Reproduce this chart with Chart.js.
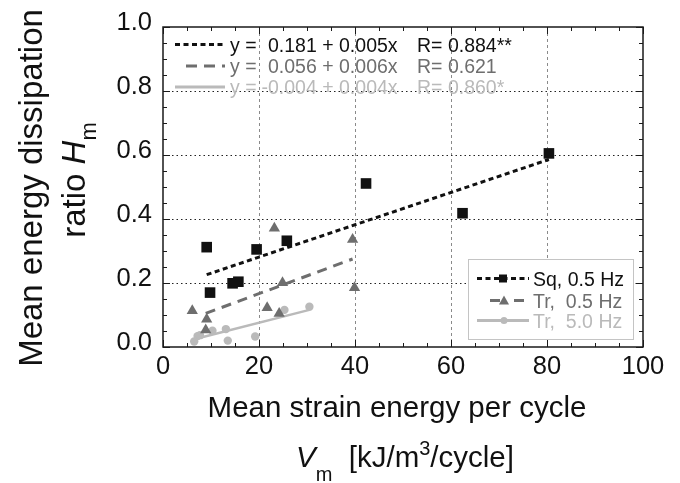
<!DOCTYPE html>
<html>
<head>
<meta charset="utf-8">
<script src="https://cdn.jsdelivr.net/npm/chart.js@4"></script>
<style>
  html, body { margin: 0; padding: 0; background: #fff; }
  #wrap { width: 680px; height: 483px; }
</style>
</head>
<body>
<div id="wrap"><canvas id="chart" width="680" height="483"></canvas></div>
<script>
// Data
const sqX = [9.1, 9.8, 14.5, 15.7, 19.5, 25.8, 42.3, 62.4, 80.4];
const sqY = [0.312, 0.170, 0.199, 0.204, 0.305, 0.332, 0.511, 0.418, 0.605];
const trX = [6.1, 8.9, 9.1, 21.7, 23.2, 24.2, 24.9, 39.5, 39.9];
const trY = [0.113, 0.053, 0.087, 0.123, 0.371, 0.105, 0.201, 0.336, 0.185];
const tr5X = [6.5, 7.2, 7.7, 10.3, 13.1, 13.5, 19.2, 25.3, 30.5];
const tr5Y = [0.017, 0.034, 0.037, 0.051, 0.056, 0.020, 0.033, 0.116, 0.126];

// fitted line end points
const sqFitX = [9.1, 80.4];
const sqFitY = [0.226, 0.586];
const trFitX = [8.9, 39.5];
const trFitY = [0.105, 0.275];
const tr5FitX = [6.5, 30.5];
const tr5FitY = [0.024, 0.116];

const xTicks = [0, 20, 40, 60, 80, 100];
const yTicks = [0.0, 0.2, 0.4, 0.6, 0.8, 1.0];

const equations = [
    { y: 'y =', fit: '0.181 + 0.005x', r: 'R= 0.884**' },
    { y: 'y =', fit: '0.056 + 0.006x', r: 'R= 0.621' },
    { y: 'y =', fit: '-0.004 + 0.004x', r: 'R= 0.860*' }
];
const seriesNames = ['Sq, 0.5 Hz', 'Tr,  0.5 Hz', 'Tr,  5.0 Hz'];

const BLACK = '#111111';
const GRAY = '#6e6e6e';
const LIGHT = '#bababa';
const FONT = "'Liberation Sans', Arial, sans-serif";

function pts(xs, ys) {
    return xs.map((x, i) => ({ x: x, y: ys[i] }));
}

// Grid, frame, ticks, titles and the two legends
const decor = {
    id: 'decor',
    beforeDatasetsDraw(chart) {
        const ctx = chart.ctx;
        const xs = chart.scales.x, ys = chart.scales.y;
        const a = chart.chartArea;
        ctx.save();
        // vertical grid
        ctx.strokeStyle = '#8a8a8a';
        ctx.lineWidth = 1;
        ctx.setLineDash([3, 3]);
        xTicks.slice(1, -1).forEach(v => {
            const px = Math.round(xs.getPixelForValue(v)) + 0.5;
            ctx.beginPath();
            ctx.moveTo(px, a.top);
            ctx.lineTo(px, a.bottom);
            ctx.stroke();
        });
        // horizontal grid
        ctx.strokeStyle = '#222';
        ctx.setLineDash([1.5, 3]);
        yTicks.slice(1, -1).forEach(v => {
            const py = Math.round(ys.getPixelForValue(v)) + 0.5;
            ctx.beginPath();
            ctx.moveTo(a.left, py);
            ctx.lineTo(a.right, py);
            ctx.stroke();
        });
        ctx.restore();
    },
    afterDatasetsDraw(chart) {
        const ctx = chart.ctx;
        const xs = chart.scales.x, ys = chart.scales.y;
        const a = chart.chartArea;
        ctx.save();
        ctx.strokeStyle = '#1a1a1a';
        ctx.lineWidth = 1.5;
        ctx.strokeRect(a.left, a.top, a.right - a.left, a.bottom - a.top);
        ctx.lineWidth = 1;
        // x ticks, every 5
        for (let v = 0; v <= 100; v += 5) {
            const px = Math.round(xs.getPixelForValue(v)) + 0.5;
            const len = v % 20 === 0 ? 7 : 4;
            ctx.beginPath();
            ctx.moveTo(px, a.bottom); ctx.lineTo(px, a.bottom - len);
            ctx.moveTo(px, a.top); ctx.lineTo(px, a.top + len);
            ctx.stroke();
        }
        // y ticks, every 0.05
        for (let k = 0; k <= 20; k++) {
            const py = Math.round(ys.getPixelForValue(k * 0.05)) + 0.5;
            const len = k % 4 === 0 ? 7 : 4;
            ctx.beginPath();
            ctx.moveTo(a.left, py); ctx.lineTo(a.left + len, py);
            ctx.moveTo(a.right, py); ctx.lineTo(a.right - len, py);
            ctx.stroke();
        }
        ctx.restore();
    },
    afterDraw(chart) {
        const ctx = chart.ctx;
        ctx.save();
        ctx.textBaseline = 'alphabetic';

        // equations, top left
        const eqColors = [BLACK, GRAY, LIGHT];
        const eqBase = [51.5, 73, 94];
        const eqDash = [[5, 3.5], [11, 7], []];
        const eqX0 = [175, 186, 175];
        ctx.font = '19.5px ' + FONT;
        equations.forEach((e, i) => {
            const by = eqBase[i];
            ctx.strokeStyle = eqColors[i];
            ctx.lineWidth = 3;
            ctx.setLineDash(eqDash[i]);
            ctx.beginPath();
            ctx.moveTo(eqX0[i], by - 7);
            ctx.lineTo(225, by - 7);
            ctx.stroke();
            ctx.setLineDash([]);
            ctx.fillStyle = eqColors[i];
            ctx.textAlign = 'left';
            ctx.fillText(e.y, 230, by);
            if (e.fit.charAt(0) === '-') {
                ctx.textAlign = 'right';
                ctx.fillText('-', 268, by);
                ctx.textAlign = 'left';
                ctx.fillText(e.fit.slice(1), 268, by);
            } else {
                ctx.fillText(e.fit, 268, by);
            }
            ctx.fillText(e.r, 417, by);
        });

        // series legend box, bottom right
        ctx.fillStyle = '#fff';
        ctx.fillRect(468.5, 259.5, 165, 80);
        ctx.strokeStyle = '#c4c4c4';
        ctx.lineWidth = 1;
        ctx.strokeRect(468.5, 259.5, 165, 80);
        const rowY = [278.5, 300.5, 320.5];
        const rowColors = [BLACK, GRAY, LIGHT];
        const rowDash = [[5, 3.5], [10, 14], []];
        const rowX0 = [477, 490, 477];
        rowY.forEach((y, i) => {
            ctx.strokeStyle = rowColors[i];
            ctx.lineWidth = 3;
            ctx.setLineDash(rowDash[i]);
            ctx.beginPath();
            ctx.moveTo(rowX0[i], y);
            ctx.lineTo(529, y);
            ctx.stroke();
            ctx.setLineDash([]);
            ctx.fillStyle = rowColors[i];
            ctx.beginPath();
            if (i === 0) {
                ctx.rect(499, y - 4, 8, 8);
            } else if (i === 1) {
                ctx.moveTo(504, y - 5);
                ctx.lineTo(509, y + 4);
                ctx.lineTo(499, y + 4);
                ctx.closePath();
            } else {
                ctx.arc(504, y, 3.5, 0, Math.PI * 2);
            }
            ctx.fill();
            ctx.font = '19.5px ' + FONT;
            ctx.textAlign = 'left';
            ctx.fillText(seriesNames[i], 533, y + 7);
        });

        // x title
        ctx.fillStyle = BLACK;
        ctx.textAlign = 'center';
        ctx.font = '29.5px ' + FONT;
        ctx.fillText('Mean strain energy per cycle', 397, 416.5);
        // second line: Vm [kJ/m3/cycle]
        const big = '29.5px ' + FONT;
        const small = '20px ' + FONT;
        const parts = [
            { t: 'V', f: 'italic ' + big, dy: 0 },
            { t: 'm', f: small, dy: 14 },
            { t: '  [kJ/m', f: big, dy: 0 },
            { t: '3', f: small, dy: -12 },
            { t: '/cycle]', f: big, dy: 0 }
        ];
        let total = 0;
        parts.forEach(p => { ctx.font = p.f; p.w = ctx.measureText(p.t).width; total += p.w; });
        let cx = 405 - total / 2;
        ctx.textAlign = 'left';
        parts.forEach(p => {
            ctx.font = p.f;
            ctx.fillText(p.t, cx, 467 + p.dy);
            cx += p.w;
        });

        // y title, rotated
        const ybig = '33px ' + FONT;
        const ysmall = '22px ' + FONT;
        ctx.save();
        ctx.translate(42, 188);
        ctx.rotate(-Math.PI / 2);
        ctx.textAlign = 'center';
        ctx.font = ybig;
        ctx.fillText('Mean energy dissipation', 0, 0);
        ctx.restore();

        ctx.save();
        ctx.translate(85, 180);
        ctx.rotate(-Math.PI / 2);
        const yparts = [
            { t: 'ratio ', f: ybig, dy: 0 },
            { t: 'H', f: 'italic ' + ybig, dy: 0 },
            { t: 'm', f: ysmall, dy: 11 }
        ];
        let ytotal = 0;
        yparts.forEach(p => { ctx.font = p.f; p.w = ctx.measureText(p.t).width; ytotal += p.w; });
        let yx = -ytotal / 2;
        ctx.textAlign = 'left';
        yparts.forEach(p => {
            ctx.font = p.f;
            ctx.fillText(p.t, yx, p.dy);
            yx += p.w;
        });
        ctx.restore();

        ctx.restore();
    }
};

const ctx = document.getElementById('chart');
new Chart(ctx, {
    type: 'scatter',
    data: {
        datasets: [
            {
                label: seriesNames[0],
                data: pts(sqX, sqY),
                pointStyle: 'rect',
                pointRadius: 7.5,
                backgroundColor: BLACK,
                borderColor: BLACK,
                borderWidth: 0
            },
            {
                label: seriesNames[1],
                data: pts(trX, trY),
                pointStyle: 'triangle',
                pointRadius: 6.5,
                backgroundColor: GRAY,
                borderColor: GRAY,
                borderWidth: 0
            },
            {
                label: seriesNames[2],
                data: pts(tr5X, tr5Y),
                pointStyle: 'circle',
                pointRadius: 4.2,
                backgroundColor: LIGHT,
                borderColor: LIGHT,
                borderWidth: 0
            },
            {
                data: pts(sqFitX, sqFitY),
                showLine: true,
                pointRadius: 0,
                borderColor: BLACK,
                borderWidth: 3,
                borderDash: [5, 3.5]
            },
            {
                data: pts(trFitX, trFitY),
                showLine: true,
                pointRadius: 0,
                borderColor: GRAY,
                borderWidth: 3,
                borderDash: [10, 7]
            },
            {
                data: pts(tr5FitX, tr5FitY),
                showLine: true,
                pointRadius: 0,
                borderColor: LIGHT,
                borderWidth: 2.5
            }
        ]
    },
    options: {
        responsive: false,
        animation: false,
        layout: { padding: { top: 27, right: 37, left: 0, bottom: 0 } },
        plugins: {
            legend: { display: false },
            tooltip: { enabled: false }
        },
        scales: {
            x: {
                type: 'linear',
                min: 0,
                max: 100,
                afterBuildTicks: s => { s.ticks = xTicks.map(v => ({ value: v })); },
                ticks: {
                    color: BLACK,
                    font: { family: FONT, size: 25.5 },
                    padding: 5,
                    maxRotation: 0
                },
                grid: { display: false, drawTicks: false },
                border: { display: false },
                afterFit: s => { s.height = 136; }
            },
            y: {
                type: 'linear',
                min: 0,
                max: 1,
                afterBuildTicks: s => { s.ticks = yTicks.map(v => ({ value: v })); },
                ticks: {
                    color: BLACK,
                    font: { family: FONT, size: 25.5 },
                    padding: 11,
                    labelOffset: -4.5,
                    callback: v => Number(v).toFixed(1)
                },
                grid: { display: false, drawTicks: false },
                border: { display: false },
                afterFit: s => { s.width = 163; }
            }
        }
    },
    plugins: [decor]
});
</script>
</body>
</html>
